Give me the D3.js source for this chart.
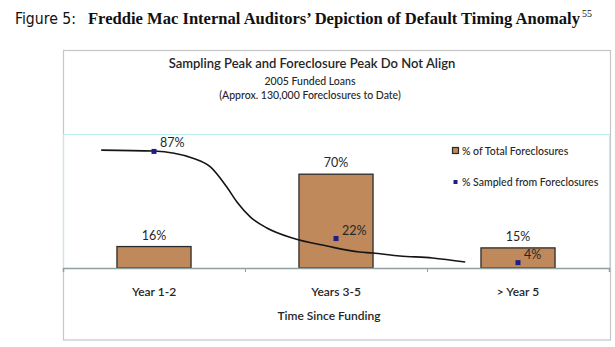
<!DOCTYPE html>
<html>
<head>
<meta charset="utf-8">
<script src="https://cdn.jsdelivr.net/npm/d3@7"></script>
<style>
  html, body { margin: 0; padding: 0; background: #ffffff; }
  svg { display: block; }
</style>
</head>
<body>
<svg id="chart" width="615" height="347"></svg>
<script>
// Chart data
const categories = ["Year 1-2", "Years 3-5", "> Year 5"];
const foreclosurePct = [16, 70, 15];
const sampledPct = [87, 22, 4];
// Smoothed sampling trend: position in category units (0 = plot left, 3 = plot right), value in %
const trendPos = [0.21, 0.50, 0.71, 0.81, 0.90, 0.96, 1.03, 1.12, 1.26, 1.45, 1.63, 1.70, 1.85, 2.03, 2.21];
const trendVal = [88.0, 87.3, 82.0, 75.4, 60.4, 48.5, 38.0, 29.9, 22.4, 16.4, 11.9, 11.2, 9.0, 7.5, 4.5];
const seriesNames = ["% of Total Foreclosures", "% Sampled from Foreclosures"];
const chartTitle = "Sampling Peak and Foreclosure Peak Do Not Align";
const chartSubtitles = ["2005 Funded Loans", "(Approx. 130,000 Foreclosures to Date)"];
const xAxisTitle = "Time Since Funding";
const figureLabel = "Figure 5:";
const figureTitle = "Freddie Mac Internal Auditors\u2019 Depiction of Default Timing Anomaly";
const figureNote = "55";

const svg = d3.select("#chart");
const sans = "Lato, 'Open Sans', 'DejaVu Sans', sans-serif";

const plot = { left: 63, right: 609, top: 134, bottom: 268 };
const barFill = "#c0895b", barStroke = "#2b2b2b", pointFill = "#1e1e86";

// Figure heading
svg.append("text")
  .attr("x", 15).attr("y", 24)
  .attr("font-family", "'Liberation Sans Narrow', 'DejaVu Sans Condensed', 'Liberation Sans', sans-serif")
  .attr("font-size", 16.5).attr("fill", "#111")
  .attr("textLength", 61).attr("lengthAdjust", "spacingAndGlyphs")
  .text(figureLabel);
const head = svg.append("text")
  .attr("y", 24)
  .attr("font-family", "'Liberation Serif', 'DejaVu Serif', serif")
  .attr("font-size", 16.5).attr("font-weight", "bold").attr("fill", "#111");
head.append("tspan").attr("x", 88)
  .attr("textLength", 492).attr("lengthAdjust", "spacingAndGlyphs")
  .text(figureTitle);
head.append("tspan").attr("x", 582).attr("font-size", 10).attr("font-weight", "normal").attr("dy", -7).text(figureNote);

// Outer chart frame
svg.append("rect")
  .attr("x", 63.5).attr("y", 50.5).attr("width", 547).attr("height", 289.5)
  .attr("fill", "#fff").attr("stroke", "#c6c6c6").attr("stroke-width", 1.2);

// Chart titles
svg.append("text")
  .attr("x", 312).attr("y", 67.5).attr("text-anchor", "middle")
  .attr("font-family", sans).attr("font-size", 13).attr("font-weight", 600).attr("fill", "#262626")
  .text(chartTitle);
chartSubtitles.forEach((s, i) => {
  svg.append("text")
    .attr("x", 310).attr("y", 85 + i * 14).attr("text-anchor", "middle")
    .attr("font-family", sans).attr("font-size", 10.5).attr("font-weight", 500).attr("fill", "#262626")
    .text(s);
});

// Scales
const x = d3.scaleBand().domain(categories).range([plot.left, plot.right])
  .paddingInner(0.593).paddingOuter(0.2965);
const xPos = d3.scaleLinear().domain([0, categories.length]).range([plot.left, plot.right]);
const y = d3.scaleLinear().domain([0, 100]).range([plot.bottom, plot.top]);
const cx = c => x(c) + x.bandwidth() / 2;

// Plot area border (top, right, left)
const cyan = "#bdeeee";
svg.append("path")
  .attr("d", `M${plot.left + 0.5},${plot.bottom}V${plot.top + 0.5}H${plot.right + 0.5}V${plot.bottom}`)
  .attr("fill", "none").attr("stroke", cyan).attr("stroke-width", 1.2);

// Bars
svg.append("g").selectAll("rect")
  .data(categories)
  .join("rect")
  .attr("x", c => x(c))
  .attr("y", (c, i) => y(foreclosurePct[i]))
  .attr("width", x.bandwidth())
  .attr("height", (c, i) => y(0) - y(foreclosurePct[i]))
  .attr("fill", barFill).attr("stroke", barStroke).attr("stroke-width", 1.3);

// Bar value labels
svg.append("g").selectAll("text")
  .data(categories)
  .join("text")
  .attr("x", c => cx(c))
  .attr("y", (c, i) => y(foreclosurePct[i]) - 7)
  .attr("text-anchor", "middle")
  .attr("font-family", sans).attr("font-size", 12.5).attr("fill", "#262626")
  .text((c, i) => foreclosurePct[i] + "%");

// Trend curve
const line = d3.line()
  .x(d => xPos(d[0])).y(d => y(d[1]))
  .curve(d3.curveMonotoneX);
svg.append("path")
  .datum(trendPos.map((p, i) => [p, trendVal[i]]))
  .attr("d", line)
  .attr("fill", "none").attr("stroke", "#151515").attr("stroke-width", 1.6);

// Sampled points
const ms = 5;
svg.append("g").selectAll("rect")
  .data(categories)
  .join("rect")
  .attr("x", c => cx(c) - ms / 2)
  .attr("y", (c, i) => y(sampledPct[i]) - ms / 2)
  .attr("width", ms).attr("height", ms)
  .attr("fill", pointFill);

// Point value labels
svg.append("g").selectAll("text")
  .data(categories)
  .join("text")
  .attr("x", c => cx(c) + 6)
  .attr("y", (c, i) => y(sampledPct[i]) - 4)
  .attr("font-family", sans).attr("font-size", 12.5).attr("fill", "#262626")
  .text((c, i) => sampledPct[i] + "%");

// Category boundary ticks and baseline
const tickAxis = d3.axisBottom(xPos)
  .tickValues(d3.range(categories.length + 1))
  .tickSize(4).tickFormat("");
const gTicks = svg.append("g").attr("transform", `translate(0,${plot.bottom})`).call(tickAxis);
gTicks.select(".domain").attr("stroke", "#8fa0a0").attr("stroke-width", 1.5);
gTicks.selectAll(".tick line").attr("stroke", "#8fa0a0");

// Category labels
const labelAxis = d3.axisBottom(x).tickSize(0).tickPadding(19);
const gLabels = svg.append("g").attr("transform", `translate(0,${plot.bottom})`).call(labelAxis);
gLabels.select(".domain").remove();
gLabels.selectAll("text")
  .attr("font-family", sans).attr("font-size", 12).attr("font-weight", 600).attr("fill", "#262626");

// Axis title
svg.append("text")
  .attr("x", 329).attr("y", 320).attr("text-anchor", "middle")
  .attr("font-family", sans).attr("font-size", 12).attr("font-weight", 600).attr("fill", "#262626")
  .text(xAxisTitle);

// Legend
const legend = svg.append("g").attr("font-family", sans).attr("font-size", 10.5).attr("fill", "#262626");
legend.append("rect").attr("x", 452.5).attr("y", 147.5).attr("width", 6).attr("height", 6)
  .attr("fill", barFill).attr("stroke", barStroke).attr("stroke-width", 1.2);
legend.append("text").attr("x", 462).attr("y", 154.5).attr("font-weight", 500).text(seriesNames[0]);
legend.append("rect").attr("x", 453.5).attr("y", 180).attr("width", 4).attr("height", 4)
  .attr("fill", pointFill);
legend.append("text").attr("x", 462).attr("y", 186).attr("font-weight", 500).text(seriesNames[1]);
</script>
</body>
</html>
